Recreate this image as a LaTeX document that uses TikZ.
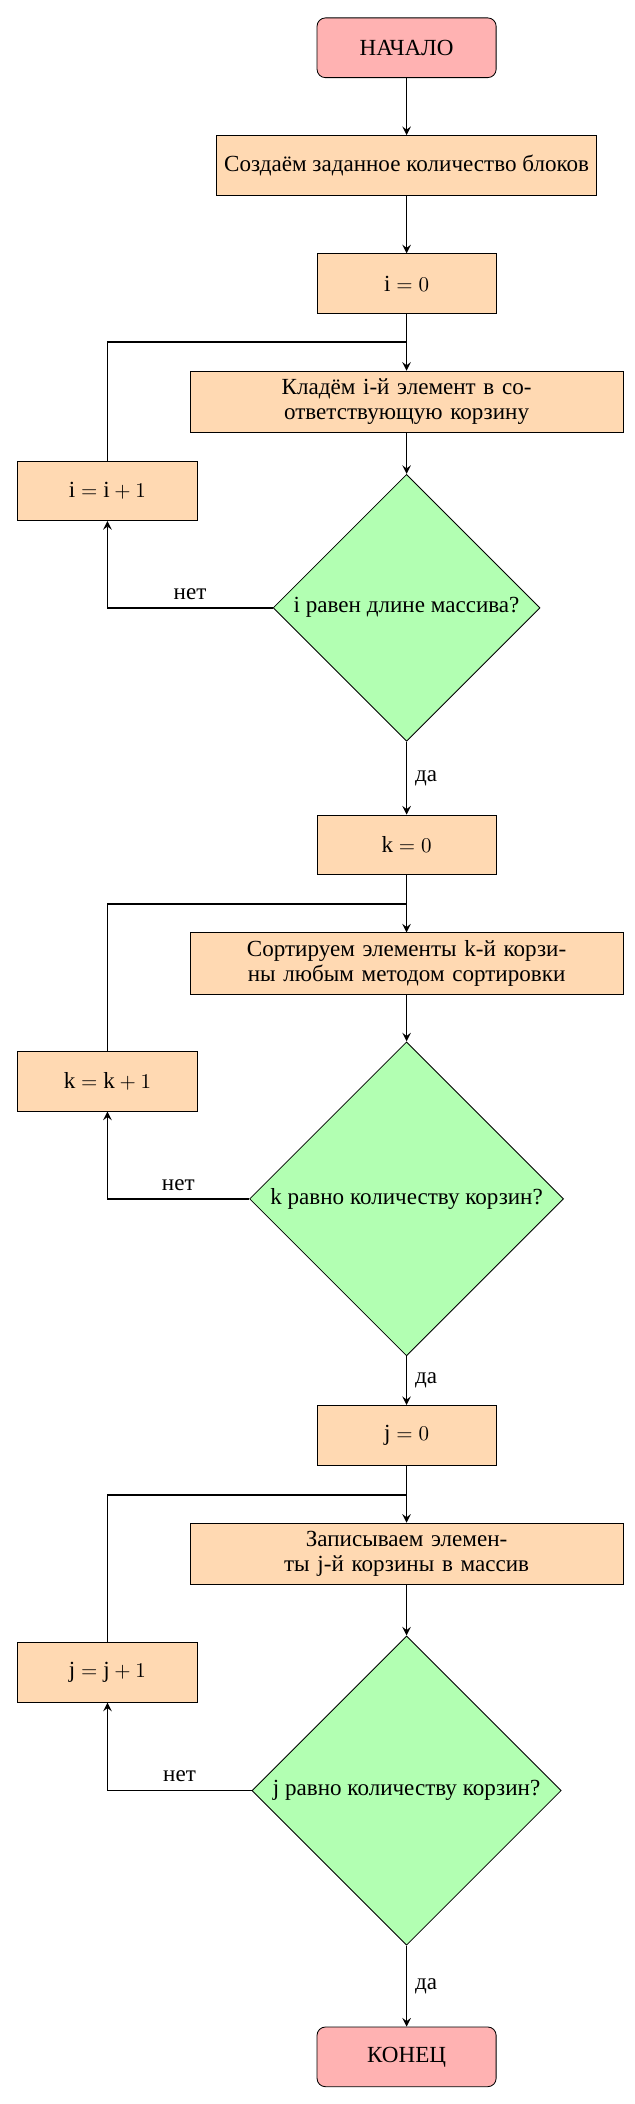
\documentclass[tikz,border=0pt]{standalone}
\usepackage{fontspec}
\setmainfont{Liberation Serif}[Scale=1.1]
\usetikzlibrary{arrows,shapes.geometric}
\definecolor{StopClr}{rgb}{1,0.7,0.7}
\definecolor{ProcClr}{rgb}{1,0.85,0.7}
\definecolor{TestClr}{rgb}{0.7,1,0.7}
\tikzset{
  startstop/.style={rectangle, rounded corners, minimum width=3cm, minimum height=1cm, draw=black, fill=StopClr},
  process/.style={rectangle, minimum width=3cm, minimum height=1cm, draw=black, fill=ProcClr, align=center},
  decision/.style={diamond, aspect=1, inner sep=1pt, draw=black, fill=TestClr},
  arrow/.style={thick,->,>=stealth},
  loopline/.style={thick}
}

\begin{document}
\begin{tikzpicture}
\useasboundingbox (0,0) rectangle (10.62,-35.24);

\node[startstop] (start) at (6.81,-0.80) {НАЧАЛО};
\node[process, minimum width=6.23cm] (create) at (6.81,-2.77) {Создаём заданное количество блоков};
\node[process] (i0) at (6.81,-4.75) {$\mathrm{i} = 0$};
\coordinate (jn1) at (6.81,-5.73);
\node[process, text width=7cm] (put) at (6.81,-6.73) {Кладём i-й элемент в со-\\ответствующую корзину};
\node[process] (inc1) at (1.80,-8.22) {$\mathrm{i} = \mathrm{i} + 1$};
\node[decision, minimum size=4.47cm] (dec1) at (6.81,-10.18) {i равен длине массива?};

\node[process] (k0) at (6.81,-14.15) {$\mathrm{k} = 0$};
\coordinate (jn2) at (6.81,-15.14);
\node[process, text width=7cm] (sort) at (6.81,-16.14) {Сортируем элементы k-й корзи-\\ны любым методом сортировки};
\node[process] (inc2) at (1.80,-18.11) {$\mathrm{k} = \mathrm{k} + 1$};
\node[decision, minimum size=5.26cm] (dec2) at (6.81,-20.08) {k равно количеству корзин?};

\node[process] (j0) at (6.81,-24.04) {$\mathrm{j} = 0$};
\coordinate (jn3) at (6.81,-25.04);
\node[process, text width=7cm] (write) at (6.81,-26.02) {Записываем элемен-\\ты j-й корзины в массив};
\node[process] (inc3) at (1.80,-28.01) {$\mathrm{j} = \mathrm{j} + 1$};
\node[decision, minimum size=5.18cm] (dec3) at (6.81,-29.99) {j равно количеству корзин?};

\node[startstop] (stop) at (6.81,-34.45) {КОНЕЦ};

\draw[arrow] (start) -- (create);
\draw[arrow] (create) -- (i0);
\draw[arrow] (i0) -- (put);
\draw[arrow] (put) -- (dec1);
\draw[arrow] (dec1) -| node[near start, above] {нет} (inc1);
\draw[loopline] (inc1) |- (jn1);
\draw[arrow] (dec1) -- node[right] {да} (k0);

\draw[arrow] (k0) -- (sort);
\draw[arrow] (sort) -- (dec2);
\draw[arrow] (dec2) -| node[near start, above] {нет} (inc2);
\draw[loopline] (inc2) |- (jn2);
\draw[arrow] (dec2) -- node[right] {да} (j0);

\draw[arrow] (j0) -- (write);
\draw[arrow] (write) -- (dec3);
\draw[arrow] (dec3) -| node[near start, above] {нет} (inc3);
\draw[loopline] (inc3) |- (jn3);
\draw[arrow] (dec3) -- node[right] {да} (stop);

\end{tikzpicture}
\end{document}
